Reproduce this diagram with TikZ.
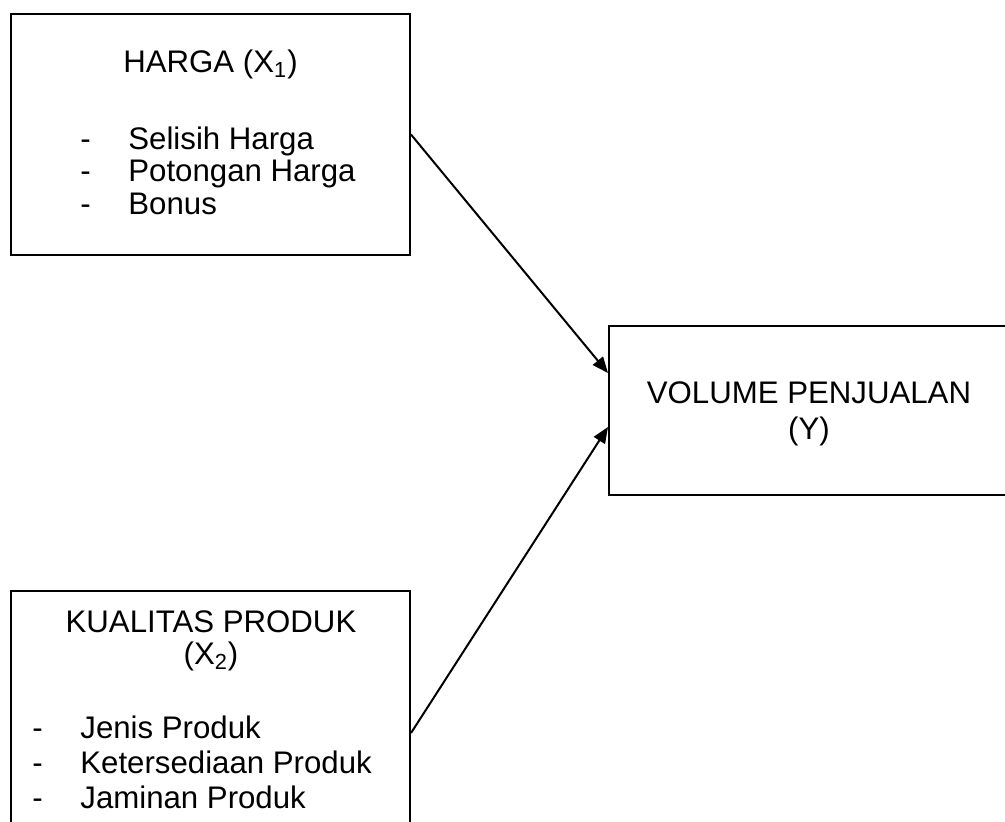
\documentclass[tikz,border=0pt]{standalone}
\usepackage{fontspec}
\setmainfont{Liberation Sans}
\usetikzlibrary{arrows.meta}
\begin{document}
\begin{tikzpicture}[x=0.5pt,y=-0.5pt,
  box/.style={draw=black,line width=1pt,rectangle,inner sep=0pt},
  lbl/.style={inner sep=0pt,font=\fontsize{15.6}{18}\selectfont},
  conn/.style={line width=1pt,-{Triangle[length=8pt,width=6.5pt]}}]
\useasboundingbox (0,0) rectangle (1005,821);
\clip (0,0) rectangle (1005,821);
% boxes
\node[box,minimum width=199.5pt,minimum height=120.5pt] (b1) at (210.5,134.5) {};
\node[box,minimum width=200pt,minimum height=84.5pt] (b2) at (809,410.5) {};
\node[box,minimum width=199.5pt,minimum height=142pt] (b3) at (210.5,733) {};
% box 1 text
\node[lbl,anchor=base] (t1) at (210.5,72) {HARGA (X\textsubscript{1})};
\node[lbl,anchor=base west] (d11) at (80,149) {-};
\node[lbl,anchor=base west] (i11) at (128,149) {Selisih Harga};
\node[lbl,anchor=base west] (d12) at (80,181.5) {-};
\node[lbl,anchor=base west] (i12) at (128,181.5) {Potongan Harga};
\node[lbl,anchor=base west] (d13) at (80,214) {-};
\node[lbl,anchor=base west] (i13) at (128,214) {Bonus};
% box 2 text
\node[lbl,anchor=base] (t2a) at (809,403) {VOLUME PENJUALAN};
\node[lbl,anchor=base] (t2b) at (809,439) {(Y)};
% box 3 text
\node[lbl,anchor=base] (t3a) at (211,632) {KUALITAS PRODUK};
\node[lbl,anchor=base] (t3b) at (211,664) {(X\textsubscript{2})};
\node[lbl,anchor=base west] (d31) at (32,738) {-};
\node[lbl,anchor=base west] (i31) at (80,738) {Jenis Produk};
\node[lbl,anchor=base west] (d32) at (32,773) {-};
\node[lbl,anchor=base west] (i32) at (80,773) {Ketersediaan Produk};
\node[lbl,anchor=base west] (d33) at (32,808) {-};
\node[lbl,anchor=base west] (i33) at (80,808) {Jaminan Produk};
% connectors
\draw[conn] (b1.east) -- ([yshift=18.75pt]b2.west);
\draw[conn] (b3.east) -- ([yshift=-8.25pt]b2.west);
\end{tikzpicture}
\end{document}
